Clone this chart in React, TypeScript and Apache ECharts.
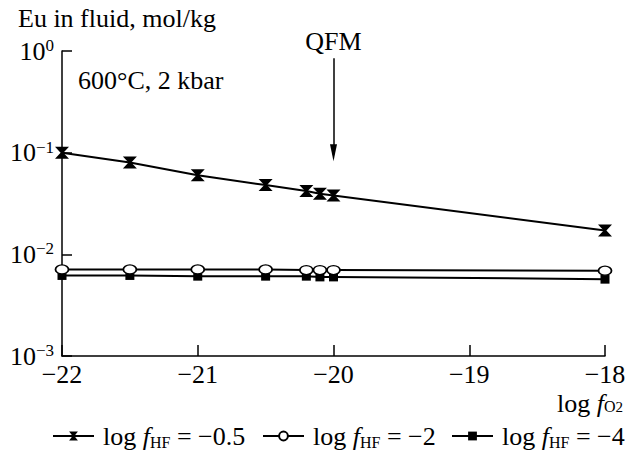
import React, { useEffect, useRef } from "react";
import * as echarts from "echarts";

// log fO2 values at which Eu solubility was measured
const LOG_FO2 = [-22, -21.5, -21, -20.5, -20.2, -20.1, -20, -18];

// Eu concentration in fluid, mol/kg, for three HF fugacities
const EU_HF_M05 = [0.1, 0.08, 0.06, 0.048, 0.042, 0.0395, 0.038, 0.0172];
const EU_HF_M2 = [0.0071, 0.0071, 0.0071, 0.0071, 0.007, 0.007, 0.007, 0.0069];
const EU_HF_M4 = [0.0062, 0.0062, 0.0061, 0.0061, 0.0061, 0.006, 0.006, 0.0057];

const SERIES_NAMES = ["hf-0.5", "hf-2", "hf-4"];
const LEGEND_VALUES = ["−0.5", "−2", "−4"];
const LEGEND_LEFT = [52, 262, 451];

// QFM buffer position and arrow extent (value units)
const QFM_X = -20;
const QFM_ARROW = [0.85, 0.1];

const FONT = "Liberation Serif";
const FS = 26;

const pairs = (ys: number[]) => LOG_FO2.map((x, i) => [x, ys[i]]);

const HOURGLASS = "path://M0,0L12,0L7.2,5L12,10L0,10L4.8,5Z";
const ELLIPSE = "path://M0,5A6,4,0,1,0,12,5A6,4,0,1,0,0,5Z";
const ARROW_HEAD = "path://M5,0L10,20L0,20Z";

const baseRich = {
  t: { fontFamily: FONT, fontSize: FS, color: "#000", lineHeight: 28 },
  i: { fontFamily: FONT, fontSize: FS, fontStyle: "italic", color: "#000", lineHeight: 28 },
  s: { fontFamily: FONT, fontSize: 16, color: "#000", lineHeight: 14, verticalAlign: "bottom" },
  p: { fontFamily: FONT, fontSize: 17, color: "#000", lineHeight: 14, verticalAlign: "top" },
};

// tighter boxes for the x-axis title so it sits just under the tick labels
const xNameRich = {
  t: { fontFamily: FONT, fontSize: FS, color: "#000", lineHeight: 22 },
  i: { fontFamily: FONT, fontSize: FS, fontStyle: "italic", color: "#000", lineHeight: 22 },
  s: { fontFamily: FONT, fontSize: 16, color: "#000", lineHeight: 6, verticalAlign: "bottom" },
  q: { fontFamily: FONT, fontSize: 15, color: "#000", lineHeight: 1, verticalAlign: "bottom" },
};

export default function App() {
  const ref = useRef<HTMLDivElement>(null);

  useEffect(() => {
    if (!ref.current) return;
    const chart = echarts.init(ref.current, null, { renderer: "svg" });

    const lineStyle = { color: "#000", width: 2 };

    const legendFormatter = (name: string) => {
      const idx = SERIES_NAMES.indexOf(name);
      return "{t|log }{i|f}{s|HF}{t| = " + LEGEND_VALUES[idx] + "}";
    };

    chart.setOption({
      animation: false,
      backgroundColor: "#fff",
      grid: { left: 62, right: 24, top: 51, bottom: 97, containLabel: false },
      xAxis: {
        type: "value",
        min: -22,
        max: -18,
        interval: 1,
        axisLine: { lineStyle: { color: "#000", width: 1.5 } },
        axisTick: { inside: true, length: 11, lineStyle: { color: "#000", width: 1.5 } },
        splitLine: { show: false },
        axisLabel: {
          margin: 7,
          color: "#000",
          fontFamily: FONT,
          fontSize: FS,
          lineHeight: 22,
          formatter: (v: number) => (v < 0 ? "−" : "") + Math.abs(v),
        },
      },
      yAxis: {
        type: "log",
        logBase: 10,
        min: 0.001,
        max: 1,
        axisLine: { show: true, lineStyle: { color: "#000", width: 1.5 } },
        axisTick: { show: true, inside: true, length: 10, lineStyle: { color: "#000", width: 1.5 } },
        minorTick: { show: false },
        splitLine: { show: false },
        axisLabel: {
          margin: 8,
          formatter: (v: number) => {
            const e = Math.round(Math.log10(v));
            return "{t|10}{p|" + (e < 0 ? "−" + Math.abs(e) : String(e)) + "}";
          },
          rich: baseRich,
        },
      },
      legend: SERIES_NAMES.map((name, i) => ({
        data: [name],
        left: LEGEND_LEFT[i],
        top: 423,
        padding: 0,
        itemWidth: 41,
        itemHeight: 11,
        selectedMode: false,
        formatter: legendFormatter,
        textStyle: { rich: baseRich, padding: [0, 0, 0, 4] },
      })),
      graphic: [
        {
          type: "text",
          left: 18,
          top: 5,
          style: { text: "Eu in fluid, mol/kg", fontFamily: FONT, fontSize: FS, fill: "#000" },
        },
        {
          type: "text",
          left: 78,
          top: 67,
          style: { text: "600°C, 2 kbar", fontFamily: FONT, fontSize: FS, fill: "#000" },
        },
        {
          type: "text",
          right: 6,
          top: 390,
          style: {
            text: "{t|log }{i|f}{s|O}{q|2}",
            rich: xNameRich,
          },
        },
      ],
      series: [
        {
          name: SERIES_NAMES[0],
          type: "line",
          data: pairs(EU_HF_M05),
          symbol: HOURGLASS,
          symbolSize: [14, 12],
          itemStyle: { color: "#000", borderWidth: 0 },
          lineStyle,
          z: 3,
          markLine: {
            silent: true,
            symbol: ["none", ARROW_HEAD],
            symbolSize: [7, 17],
            lineStyle: { color: "#000", width: 1.5, type: "solid" },
            label: {
              show: true,
              position: "start",
              formatter: "QFM",
              distance: 4,
              fontFamily: FONT,
              fontSize: FS,
              color: "#000",
            },
            data: [[{ coord: [QFM_X, QFM_ARROW[0]] }, { coord: [QFM_X, QFM_ARROW[1]] }]],
          },
        },
        {
          name: SERIES_NAMES[2],
          type: "line",
          data: pairs(EU_HF_M4),
          symbol: "rect",
          symbolSize: 9,
          itemStyle: { color: "#000" },
          lineStyle,
          z: 2,
        },
        {
          name: SERIES_NAMES[1],
          type: "line",
          data: pairs(EU_HF_M2),
          symbol: ELLIPSE,
          symbolSize: [13, 9],
          itemStyle: { color: "#fff", borderColor: "#000", borderWidth: 1.5 },
          lineStyle,
          z: 3,
        },
      ],
    });

    return () => chart.dispose();
  }, []);

  return (
    <div
      ref={ref}
      style={{ position: "fixed", left: 0, top: 0, width: 629, height: 453 }}
    />
  );
}
